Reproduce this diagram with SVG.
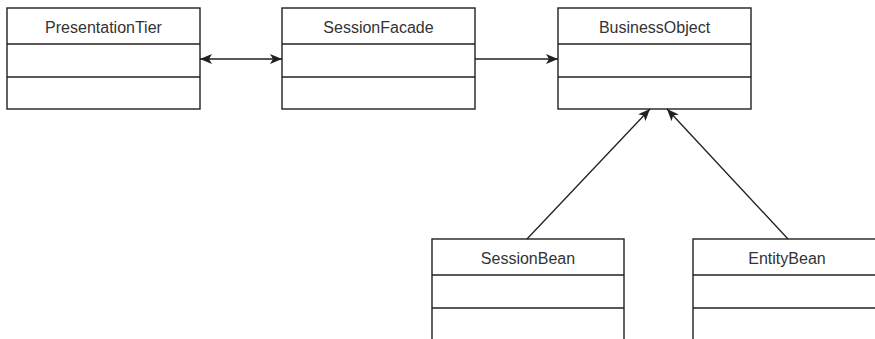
<svg xmlns="http://www.w3.org/2000/svg" width="875" height="339" viewBox="0 0 875 339">
<style>
.box{fill:#fff;stroke:#231f20;stroke-width:1.4}
.div{stroke:#231f20;stroke-width:1.4}
.lbl{font-family:"Liberation Sans",Arial,sans-serif;font-size:16px;fill:#333;text-anchor:middle}
.conn{stroke:#231f20;stroke-width:1.3;fill:none}
</style>
<defs>
<marker id="ah" viewBox="0 0 12 10" refX="12" refY="5" markerWidth="12" markerHeight="10" markerUnits="userSpaceOnUse" orient="auto-start-reverse">
<path d="M0,0 L12,5 L0,10 L3,5 Z" fill="#231f20"/>
</marker>
</defs>
<rect width="875" height="339" fill="#fff"/>
<g id="PresentationTier">
<rect class="box" x="7" y="8" width="193" height="101"/>
<line class="div" x1="7" y1="44" x2="200" y2="44"/>
<line class="div" x1="7" y1="77" x2="200" y2="77"/>
<text class="lbl" x="103.5" y="33">PresentationTier</text>
</g>
<g id="SessionFacade">
<rect class="box" x="282" y="8" width="193" height="101"/>
<line class="div" x1="282" y1="44" x2="475" y2="44"/>
<line class="div" x1="282" y1="77" x2="475" y2="77"/>
<text class="lbl" x="378.5" y="33">SessionFacade</text>
</g>
<g id="BusinessObject">
<rect class="box" x="558" y="8" width="193" height="101"/>
<line class="div" x1="558" y1="44" x2="751" y2="44"/>
<line class="div" x1="558" y1="77" x2="751" y2="77"/>
<text class="lbl" x="654.5" y="33">BusinessObject</text>
</g>
<g id="SessionBean">
<rect class="box" x="432" y="239" width="192" height="110"/>
<line class="div" x1="432" y1="275" x2="624" y2="275"/>
<line class="div" x1="432" y1="308" x2="624" y2="308"/>
<text class="lbl" x="528" y="264">SessionBean</text>
</g>
<g id="EntityBean">
<rect class="box" x="693" y="239" width="193" height="110"/>
<line class="div" x1="693" y1="275" x2="886" y2="275"/>
<line class="div" x1="693" y1="308" x2="886" y2="308"/>
<text class="lbl" x="787" y="264">EntityBean</text>
</g>
<g id="connectors">
<line class="conn" x1="200" y1="59" x2="282" y2="59" marker-start="url(#ah)" marker-end="url(#ah)"/>
<line class="conn" x1="475" y1="59" x2="558" y2="59" marker-end="url(#ah)"/>
<line class="conn" x1="527" y1="239" x2="650" y2="109" marker-end="url(#ah)"/>
<line class="conn" x1="788" y1="239" x2="667" y2="109" marker-end="url(#ah)"/>
</g>
</svg>
